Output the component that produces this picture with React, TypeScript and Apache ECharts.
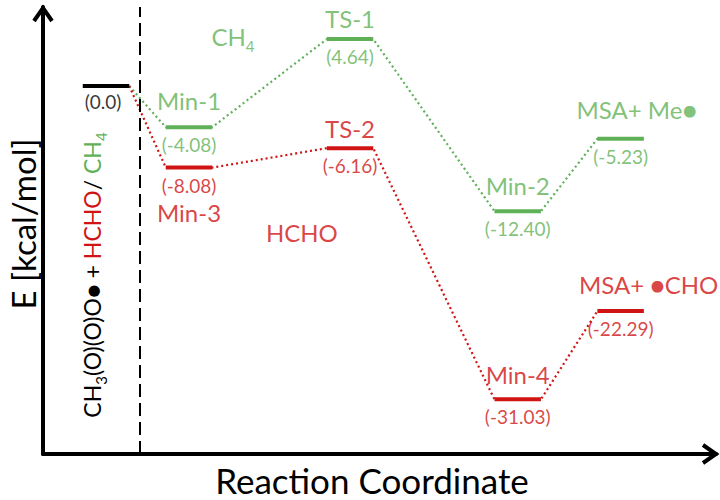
import React, { useEffect, useRef } from 'react';
import * as echarts from 'echarts';

// ---- data ----
const stageX = [0, 1, 2.94, 4.96, 6.2];
const ch4Energy = [0, -4.08, 4.64, -12.4, -5.23];
const hchoEnergy = [0, -8.08, -6.16, -31.03, -22.29];
const ch4Names = ['', 'Min-1', 'TS-1', 'Min-2', 'MSA+ Me●'];
const hchoNames = ['', 'Min-3', 'TS-2', 'Min-4', 'MSA+ ●CHO'];
const reactantLabel = '(0.0)';
const pathLabels = [
  { text: '{m|CH}{s|4}', x: 1.53, y: 4.85, path: 'ch4' },
  { text: '{m|HCHO}', x: 2.36, y: -14.55, path: 'hcho' },
];
const separatorX = 0.41;

const GREEN = '#5fb157';
const RED = '#d01414';
const BLACK = '#000000';
const FONT = 'Lato, "Open Sans", sans-serif';
const HALF = 0.28;
const NAME_SIZE = 24;
const VALUE_SIZE = 19;

// per-stage label spacing (style only)
const ch4NameDist = [0, 14, 8, 13, 17];
const hchoNameDist = [0, 32, 7, 12, 14];
const ch4NameOffsetX = [0, 0, 0, 0, 16];
const hchoNameOffsetX = [0, 0, 0, 0, 28];

const fmt = (v: number) => `(${v.toFixed(2)})`;

function levelSeries(x: number, e: number, color: string) {
  return {
    type: 'line',
    data: [
      [x - HALF, e],
      [x + HALF, e],
    ],
    symbol: 'none',
    silent: true,
    z: 5,
    lineStyle: { width: 4, color },
  };
}

function pathSeries(energies: number[], color: string) {
  const pts: number[][] = [];
  stageX.forEach((x, i) => {
    pts.push([x - HALF, energies[i]]);
    pts.push([x + HALF, energies[i]]);
  });
  return {
    type: 'line',
    data: pts.slice(1),
    symbol: 'none',
    silent: true,
    z: 3,
    lineStyle: { width: 2.2, type: [2, 3], color },
  };
}

function nameItems(names: string[], energies: number[], color: string, isHcho: boolean) {
  const items: any[] = [];
  names.forEach((n, i) => {
    if (!n) return;
    const position = isHcho && i === 1 ? 'bottom' : 'top';
    const distance = (isHcho ? hchoNameDist : ch4NameDist)[i];
    const offset = [(isHcho ? hchoNameOffsetX : ch4NameOffsetX)[i], 0];
    items.push({
      value: [stageX[i], energies[i]],
      label: { show: true, formatter: n, position, distance, offset, color, fontSize: NAME_SIZE, fontFamily: FONT, lineHeight: 24 },
    });
  });
  return items;
}

function valueItems(energies: number[], color: string) {
  const items: any[] = [];
  energies.forEach((e, i) => {
    if (i === 0) return;
    items.push({
      value: [stageX[i], e],
      label: { show: true, formatter: fmt(e), position: 'bottom', distance: 7, color, fontSize: VALUE_SIZE, fontFamily: FONT, lineHeight: 20 },
    });
  });
  return items;
}

export default function App() {
  const ref = useRef<HTMLDivElement>(null);
  useEffect(() => {
    document.body.style.margin = '0';
    const chart = echarts.init(ref.current!, null, { renderer: 'svg' });
    const labelScatter = (data: any[]) => ({
      type: 'scatter',
      data,
      symbolSize: 1,
      silent: true,
      z: 6,
      itemStyle: { color: 'rgba(0,0,0,0)' },
    });
    const option: any = {
      animation: false,
      grid: { left: 43, right: 4, top: 7, bottom: 46 },
      xAxis: {
        type: 'value',
        min: -0.759,
        max: 7.349,
        axisLine: { show: true, onZero: false, lineStyle: { color: BLACK, width: 4 } },
        axisTick: { show: false },
        axisLabel: { show: false },
        splitLine: { show: false },
      },
      yAxis: {
        type: 'value',
        min: -36.44,
        max: 7.82,
        axisLine: { show: true, onZero: false, lineStyle: { color: BLACK, width: 4 } },
        axisTick: { show: false },
        axisLabel: { show: false },
        splitLine: { show: false },
      },
      series: [
        {
          type: 'line',
          data: [],
          silent: true,
          markLine: {
            silent: true,
            symbol: 'none',
            label: { show: false },
            lineStyle: { color: BLACK, width: 2, type: [13, 6] },
            data: [{ xAxis: separatorX }],
          },
        },
        pathSeries(ch4Energy, GREEN),
        pathSeries(hchoEnergy, RED),
        levelSeries(stageX[0], 0, BLACK),
        ...stageX.slice(1).map((x, k) => levelSeries(x, ch4Energy[k + 1], GREEN)),
        ...stageX.slice(1).map((x, k) => levelSeries(x, hchoEnergy[k + 1], RED)),
        labelScatter([
          ...nameItems(ch4Names, ch4Energy, GREEN, false),
          ...nameItems(hchoNames, hchoEnergy, RED, true),
          ...valueItems(ch4Energy, GREEN),
          ...valueItems(hchoEnergy, RED),
          {
            value: [stageX[0], 0],
            label: { show: true, formatter: reactantLabel, position: 'bottom', distance: 5, offset: [-3, 0], color: BLACK, fontSize: VALUE_SIZE, fontFamily: FONT, lineHeight: 20 },
          },
          ...pathLabels.map((p) => {
            const c = p.path === 'ch4' ? GREEN : RED;
            return {
              value: [p.x, p.y],
              label: {
                show: true,
                formatter: p.text,
                position: 'inside',
                color: c,
                rich: {
                  m: { fontSize: 24, lineHeight: 34, fontFamily: FONT, color: c },
                  s: { fontSize: 15, lineHeight: 12, verticalAlign: 'bottom', fontFamily: FONT, color: c },
                },
              },
            };
          }),
        ]),
      ],
      graphic: [
        { type: 'polyline', shape: { points: [[34, 21], [43, 8], [52, 21]] }, style: { stroke: BLACK, lineWidth: 4, fill: 'none' }, z: 10 },
        { type: 'polyline', shape: { points: [[703, 445], [716, 454], [703, 463]] }, style: { stroke: BLACK, lineWidth: 4, fill: 'none' }, z: 10 },
        {
          type: 'text',
          x: 23,
          y: 224,
          rotation: Math.PI / 2,
          style: { text: 'E [kcal/mol]', fill: BLACK, font: `33px ${FONT}`, align: 'center', verticalAlign: 'middle' },
        },
        {
          type: 'text',
          x: 372,
          y: 480,
          style: { text: 'Reaction Coordinate', fill: BLACK, font: `35px ${FONT}`, align: 'center', verticalAlign: 'middle' },
        },
        {
          type: 'text',
          x: 92,
          y: 275,
          rotation: Math.PI / 2,
          style: {
            text: '{k|CH}{ks|3}{k|(O)(O)O● + }{r|HCHO}{k|/ }{g|CH}{gs|4}',
            align: 'center',
            verticalAlign: 'middle',
            rich: {
              k: { fill: BLACK, fontSize: 23, fontFamily: FONT, lineHeight: 32 },
              ks: { fill: BLACK, fontSize: 15, fontFamily: FONT, lineHeight: 12, verticalAlign: 'bottom' },
              r: { fill: RED, fontSize: 23, fontFamily: FONT, lineHeight: 32 },
              g: { fill: GREEN, fontSize: 23, fontFamily: FONT, lineHeight: 32 },
              gs: { fill: GREEN, fontSize: 15, fontFamily: FONT, lineHeight: 12, verticalAlign: 'bottom' },
            },
          },
        },
      ],
    };
    chart.setOption(option);
    return () => chart.dispose();
  }, []);
  return <div ref={ref} style={{ width: 720, height: 500 }} />;
}
